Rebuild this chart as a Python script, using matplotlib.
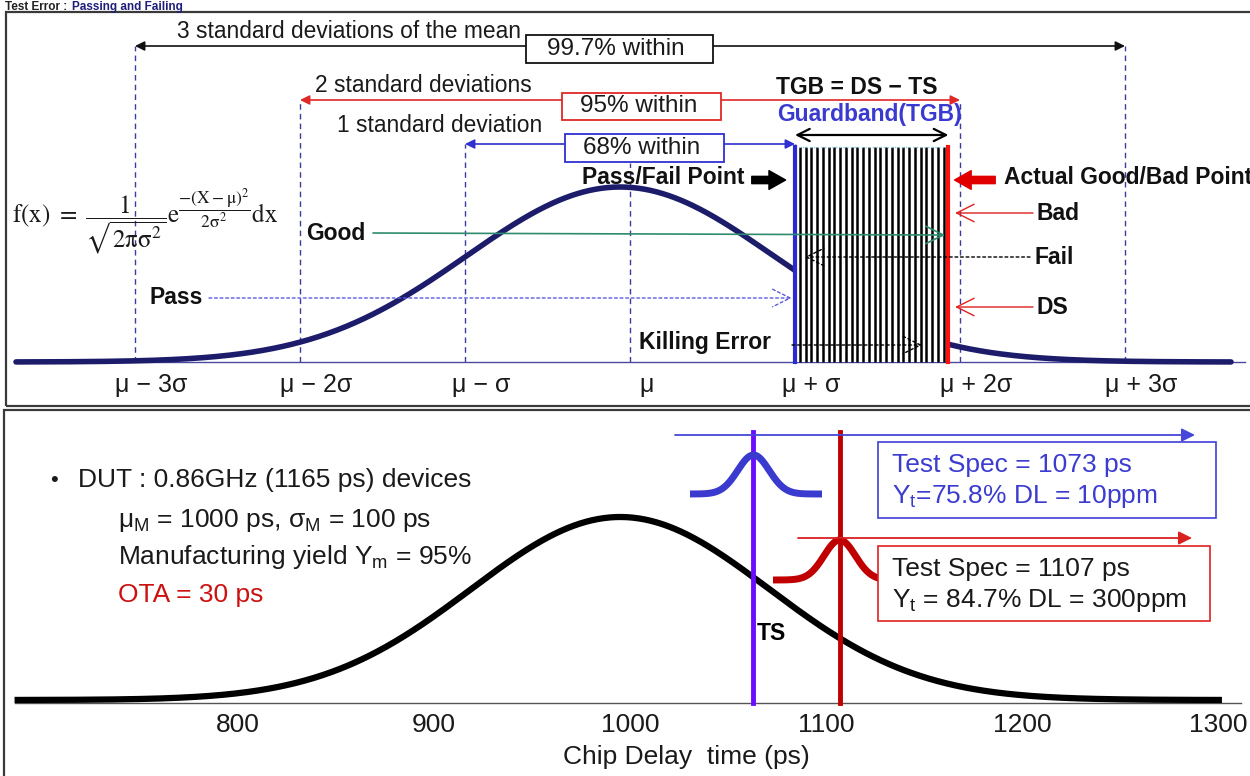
import numpy as np
import matplotlib
matplotlib.use('Agg')
import matplotlib.pyplot as plt
from matplotlib.patches import Rectangle, FancyArrowPatch

plt.rcParams['font.family'] = ['Liberation Sans', 'DejaVu Sans']
plt.rcParams['mathtext.fontset'] = 'custom'
plt.rcParams['mathtext.rm'] = 'Liberation Sans'
plt.rcParams['mathtext.it'] = 'Liberation Sans:italic'
plt.rcParams['mathtext.bf'] = 'Liberation Sans:bold'

# ---------------- data ----------------
sigma_steps = [-3, -2, -1, 0, 1, 2, 3]
sigma_labels = ['μ − 3σ', 'μ − 2σ', 'μ − σ', 'μ', 'μ + σ', 'μ + 2σ', 'μ + 3σ']
coverage_k = [3, 2, 1]
coverage_text = ['3 standard deviations of the mean', '2 standard deviations', '1 standard deviation']
coverage_pct = ['99.7% within', '95% within', '68% within']
coverage_colors = ['#111111', '#e02828', '#3030d0']
ts_sigma = 1.0          # test spec (pass/fail point)
ds_sigma = 1.93         # device spec (actual good/bad point)
top_curve_center = -0.06
top_curve_width = 0.93

delay_ticks = [800, 900, 1000, 1100, 1200, 1300]
dist_center_ps = 995
dist_width_ps = 76
dist_range_ps = [686, 1302]
spec_ts_ps = 1063
spec_ds_ps = 1107
box_ts_lines = ['Test Spec = 1073 ps', r'$\mathrm{Y}_\mathrm{t}$=75.8% DL = 10ppm']
box_ds_lines = ['Test Spec = 1107 ps', r'$\mathrm{Y}_\mathrm{t}$ = 84.7% DL = 300ppm']
dut_lines = [r'$\mathrm{μ}_\mathrm{M}$ = 1000 ps, $\mathrm{σ}_\mathrm{M}$ = 100 ps',
             r'Manufacturing yield $\mathrm{Y}_\mathrm{m}$ = 95%',
             'OTA = 30 ps']
dut_colors = ['#1a1a1a', '#1a1a1a', '#cc1111']

# ---------------- layout helpers (pixel -> axes units) ----------------
W, H = 1250, 776
def tx(px): return (px - 630) / 165.0
def ty(px): return (362 - px) / 175.0
def bx(px): return 1000 + (px - 630) / 1.96
def by(px): return (700 - px) / 183.0

fig = plt.figure(figsize=(W / 100, H / 100), dpi=100)

# title (small, above the frame)
fig.text(5 / W, 1 - 1 / H, 'Test Error : ', fontsize=8.5, fontweight='bold', color='#222222',
         ha='left', va='top')
fig.text(72 / W, 1 - 1 / H, 'Passing and Failing', fontsize=8.5, fontweight='bold', color='#1f1f7a',
         ha='left', va='top')

# panel frames
fig.add_artist(Rectangle((6 / W, 1 - 406 / H), 1.1, (406 - 12) / H, transform=fig.transFigure,
                         fill=False, ec='#3a3a3a', lw=1.6, clip_on=False))
fig.add_artist(Rectangle((4 / W, -0.1), 1.1, (1 - 410 / H) + 0.1, transform=fig.transFigure,
                         fill=False, ec='#3a3a3a', lw=1.6, clip_on=False))

# ================= top panel =================
ax1 = fig.add_axes([0, 1 - 407 / H, 1, 407 / H])
ax1.set_xlim(tx(0), tx(W))
ax1.set_ylim(ty(407), ty(0))
ax1.axis('off')

row_y = {3: ty(46), 2: ty(100), 1: ty(144), 0: ty(163)}
label_y = {3: ty(31), 2: ty(85), 1: ty(125)}
label_x = {3: tx(177), 2: tx(315), 1: tx(337)}
box_ext = {3: (526, 713, 35, 63), 2: (562, 721, 93, 120), 1: (565, 724, 134, 162)}

# dashed sigma lines
for s in sigma_steps:
    ax1.plot([s, s], [0, row_y[abs(s)]], color='#3c3c9c', lw=1, ls=(0, (4, 3)), zorder=1)

# baseline and curve
ax1.plot([tx(15), tx(1245)], [0, 0], color='#4a4aa0', lw=1, zorder=2)
s_curve = np.linspace(tx(16), tx(1231), 800)
ax1.plot(s_curve, np.exp(-0.5 * ((s_curve - top_curve_center) / top_curve_width) ** 2),
         color='#1c1c6b', lw=4, solid_capstyle='round', zorder=3)

# guardband stripes
gb_top = ty(147)
ax1.add_patch(Rectangle((ts_sigma, 0), ds_sigma - ts_sigma, gb_top, fc='white', ec='none', zorder=4))
ax1.vlines(np.linspace(ts_sigma + 0.03, ds_sigma - 0.03, 26), 0, gb_top, color='black', lw=1.8, zorder=5)
ax1.plot([ts_sigma, ds_sigma], [gb_top, gb_top], color='#8fd0e8', lw=1, ls=':', zorder=5)
ax1.plot([ts_sigma, ts_sigma], [0, gb_top], color='#2a2ad0', lw=3, zorder=6)
ax1.plot([ds_sigma, ds_sigma], [0, gb_top], color='#ff1010', lw=3, zorder=6)

# coverage arrows / labels / boxes
for k, txt, pct, c in zip(coverage_k, coverage_text, coverage_pct, coverage_colors):
    ax1.annotate('', xy=(k, row_y[k]), xytext=(-k, row_y[k]),
                 arrowprops=dict(arrowstyle='<|-|>', color=c, lw=1.2, mutation_scale=14,
                                 shrinkA=0, shrinkB=0), zorder=7)
    ax1.text(label_x[k], label_y[k], txt, fontsize=16.4, color='#1a1a1a', ha='left', va='center', zorder=8)
    x0, x1, y0, y1 = box_ext[k]
    ax1.add_patch(Rectangle((tx(x0), ty(y1)), tx(x1) - tx(x0), ty(y0) - ty(y1),
                            fc='white', ec=c, lw=1.3, zorder=8))
    ax1.text((tx(x0) + tx(x1)) / 2 - 0.02, (ty(y0) + ty(y1)) / 2, pct, fontsize=17.5, color='#1a1a1a',
             ha='center', va='center', zorder=9)

BOLD = dict(fontsize=16.5, fontweight='bold', color='#111111', va='center')

# TGB header
ax1.text(tx(857), ty(87), 'TGB = DS − TS', ha='center', **BOLD)
ax1.text(tx(869), ty(115), 'Guardband(TGB)', fontsize=16.5, fontweight='bold', color='#3a3ad0',
         ha='center', va='center')
ax1.annotate('', xy=(ds_sigma, ty(135)), xytext=(ts_sigma, ty(135)),
             arrowprops=dict(arrowstyle='<->', color='black', lw=1.6, mutation_scale=22,
                             shrinkA=0, shrinkB=0))

# Pass/Fail point and Actual Good/Bad point
ax1.add_patch(FancyArrowPatch((tx(749), ty(180)), (ts_sigma - 0.04, ty(180)),
                              arrowstyle='simple,head_length=0.8,head_width=0.9,tail_width=0.35',
                              mutation_scale=15, color='black', zorder=8))
ax1.text(tx(745), ty(178), 'Pass/Fail Point', ha='right', **BOLD)
ax1.add_patch(FancyArrowPatch((tx(998), ty(180)), (ds_sigma + 0.02, ty(180)),
                              arrowstyle='simple,head_length=0.8,head_width=0.9,tail_width=0.35',
                              mutation_scale=15, color='#e00000', zorder=8))
ax1.text(tx(1004), ty(178), 'Actual Good/Bad Point', ha='left', **BOLD)

def thin_arrow(x_from, x_to, y_from, color, ls='-', lw=1.0, y_to=None):
    ax1.add_patch(FancyArrowPatch((x_from, y_from), (x_to, y_from if y_to is None else y_to),
                                  arrowstyle='->,head_length=0.7,head_width=0.35',
                                  mutation_scale=18, color=color, lw=lw, ls=ls,
                                  shrinkA=0, shrinkB=0, zorder=8))

# Bad / DS
ax1.text(tx(1037), ty(213), 'Bad', ha='left', **BOLD)
thin_arrow(tx(1033), ds_sigma + 0.04, ty(213), '#e02020')
ax1.text(tx(1037), ty(307), 'DS', ha='left', **BOLD)
thin_arrow(tx(1033), ds_sigma + 0.04, ty(307), '#e02020')
# Good
ax1.text(tx(365), ty(233), 'Good', ha='right', **BOLD)
thin_arrow(tx(373), ds_sigma - 0.02, ty(233), '#2e8b6e', lw=1.2, y_to=ty(235))
# Fail
ax1.text(tx(1035), ty(257), 'Fail', ha='left', **BOLD)
thin_arrow(tx(1030), ts_sigma + 0.06, ty(257), 'black', ls=(0, (2, 2)))
# Pass
ax1.text(tx(203), ty(298), 'Pass', ha='right', **BOLD)
thin_arrow(tx(209), ts_sigma - 0.02, ty(298), '#5a5ae0', ls=(0, (2, 2)))
# Killing error
ax1.text(tx(639), ty(342), 'Killing Error', ha='left', zorder=9, **BOLD)
thin_arrow(tx(792), tx(922), ty(345), 'black', ls=(0, (2, 2)))

# formula
ax1.text(tx(12), ty(222),
         r'$\mathrm{f(x)}\ =\ \dfrac{1}{\sqrt{\mathrm{2πσ}^2}}\mathrm{e}^{\dfrac{-(\mathrm{X}-\mathrm{μ})^2}{\mathrm{2σ}^2}}\mathrm{dx}$',
         fontsize=18, math_fontfamily='stix', ha='left', va='center', color='#1a1a1a', zorder=9)

# sigma tick labels
for s, lab in zip(sigma_steps, sigma_labels):
    ax1.text(s + 0.1, ty(385), lab, fontsize=18, color='#1a1a1a', ha='center', va='center')

# ================= bottom panel =================
ax2 = fig.add_axes([0, 0, 1, 1 - 407 / H])
ax2.set_xlim(bx(0), bx(W))
ax2.set_ylim(by(776), by(407))
ax2.axis('off')

ax2.plot([bx(15), bx(1241)], [by(703), by(703)], color='#555555', lw=1, zorder=1)
t = np.linspace(dist_range_ps[0], dist_range_ps[1], 800)
ax2.plot(t, np.exp(-0.5 * ((t - dist_center_ps) / dist_width_ps) ** 2), color='black', lw=4.5,
         solid_capstyle='butt', zorder=3)

for tk in delay_ticks:
    ax2.text(tk, by(725), str(tk), fontsize=19, color='#1a1a1a', ha='center', va='center')
ax2.text(bx(686), by(757), 'Chip Delay  time (ps)', fontsize=19, color='#1a1a1a', ha='center', va='center')

# spec lines
ax2.plot([spec_ts_ps, spec_ts_ps], [by(703), by(432)], color='#6a0dff', lw=3.5, zorder=4)
ax2.plot([spec_ds_ps, spec_ds_ps], [by(703), by(432)], color='#c00000', lw=3.5, zorder=4)

# direction arrows
ax2.annotate('', xy=(bx(1195), by(435)), xytext=(bx(675), by(435)),
             arrowprops=dict(arrowstyle='-|>', color='#4646d8', lw=1.3, mutation_scale=20,
                             shrinkA=0, shrinkB=0), zorder=5)
ax2.annotate('', xy=(bx(1192), by(538)), xytext=(bx(798), by(538)),
             arrowprops=dict(arrowstyle='-|>', color='#d82020', lw=1.3, mutation_scale=20,
                             shrinkA=0, shrinkB=0), zorder=5)

# tester accuracy bumps
tb = np.linspace(bx(690), bx(822), 300)
ax2.plot(tb, by(494) + (by(455) - by(494)) * np.exp(-0.5 * ((tb - spec_ts_ps) / 8.0) ** 2),
         color='#3a3acf', lw=5, solid_capstyle='butt', zorder=4)
tr = np.linspace(bx(773), bx(885), 300)
ax2.plot(tr, by(580) + (by(540) - by(580)) * np.exp(-0.5 * ((tr - spec_ds_ps) / 8.0) ** 2),
         color='#c00000', lw=5, solid_capstyle='butt', zorder=4)

# spec boxes
ax2.add_patch(Rectangle((bx(878), by(518)), bx(1216) - bx(878), by(442) - by(518),
                        fc='white', ec='#4040d8', lw=1.2, zorder=6))
ax2.add_patch(Rectangle((bx(878), by(621)), bx(1210) - bx(878), by(546) - by(621),
                        fc='white', ec='#e02020', lw=1.2, zorder=6))
for line, yy in zip(box_ts_lines, [465, 497]):
    ax2.text(bx(892), by(yy), line, fontsize=19, color='#3c3cd0', ha='left', va='center', zorder=7)
for line, yy in zip(box_ds_lines, [569, 601]):
    ax2.text(bx(892), by(yy), line, fontsize=19, color='#1a1a1a', ha='left', va='center', zorder=7)

ax2.text(bx(757), by(633), 'TS', fontsize=16.5, fontweight='bold', ha='left', va='center', zorder=7)

# DUT description
ax2.text(bx(50), by(480), '•', fontsize=16, color='#1a1a1a', ha='left', va='center')
ax2.text(bx(78), by(480), 'DUT : 0.86GHz (1165 ps) devices', fontsize=19, color='#1a1a1a',
         ha='left', va='center')
for line, c, yy in zip(dut_lines, dut_colors, [520, 557, 595]):
    ax2.text(bx(118), by(yy), line, fontsize=19, color=c, ha='left', va='center')

fig.savefig('out.png', dpi=100)
